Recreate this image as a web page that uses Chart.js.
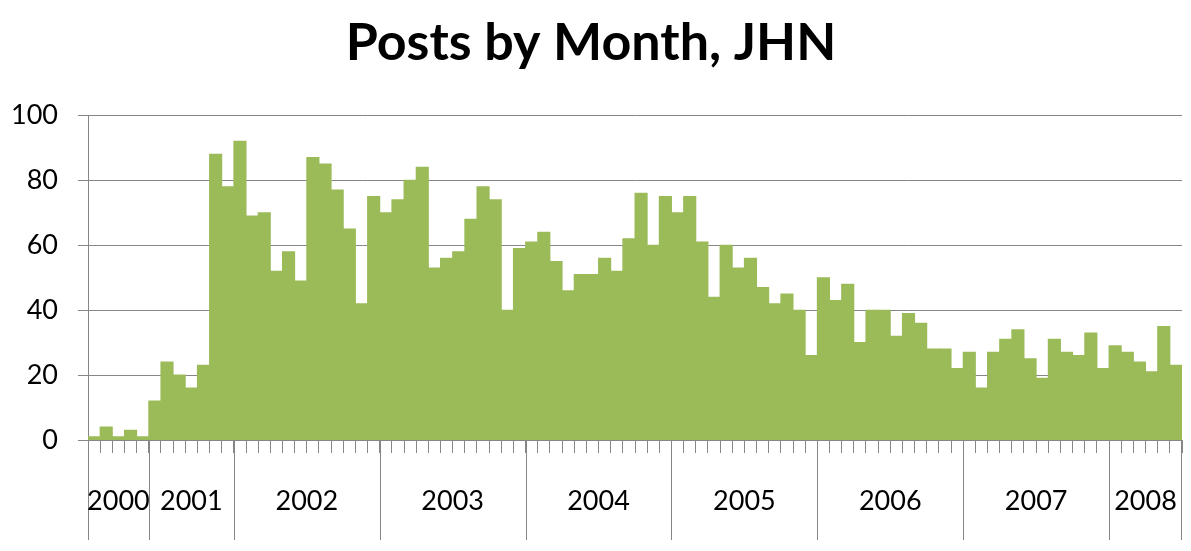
<!DOCTYPE html>
<html>
<head>
<meta charset="utf-8">
<title>Posts by Month, JHN</title>
<script src="https://cdn.jsdelivr.net/npm/chart.js@4/dist/chart.umd.min.js"></script>
<style>
  html, body { margin: 0; padding: 0; background: #fff; }
  canvas { display: block; }
</style>
</head>
<body>
<canvas id="postsChart" width="1191" height="551"></canvas>
<script>
// years on the axis and how many monthly bars each one has
const years = ["2000", "2001", "2002", "2003", "2004", "2005", "2006", "2007", "2008"];
const monthsPerYear = [5, 7, 12, 12, 12, 12, 12, 12, 6];

// posts per month
const posts2000 = [1, 4, 1, 3, 1];
const posts2001 = [12, 24, 20, 16, 23, 88, 78];
const posts2002 = [92, 69, 70, 52, 58, 49, 87, 85, 77, 65, 42, 75];
const posts2003 = [70, 74, 80, 84, 53, 56, 58, 68, 78, 74, 40, 59];
const posts2004 = [61, 64, 55, 46, 51, 51, 56, 52, 62, 76, 60, 75];
const posts2005 = [70, 75, 61, 44, 60, 53, 56, 47, 42, 45, 40, 26];
const posts2006 = [50, 43, 48, 30, 40, 40, 32, 39, 36, 28, 28, 22];
const posts2007 = [27, 16, 27, 31, 34, 25, 19, 31, 27, 26, 33, 22];
const posts2008 = [29, 27, 24, 21, 35, 23];

const yTicks = [0, 20, 40, 60, 80, 100];

const posts = [].concat(posts2000, posts2001, posts2002, posts2003, posts2004,
                        posts2005, posts2006, posts2007, posts2008);

const monthLabels = [];
years.forEach((yr, i) => {
    for (let m = 0; m < monthsPerYear[i]; m++) monthLabels.push(yr + "-" + (m + 1));
});

const gridColor = "#868686";
const barColor = "#9BBB59";
const font = "Lato";

// long separators between years and the year names under the axis
const yearBands = {
    id: "yearBands",
    afterDraw(chart) {
        const ctx = chart.ctx;
        const x = chart.scales.x;
        const step = x.getPixelForValue(1) - x.getPixelForValue(0);
        const top = x.top;
        const bottom = 540;
        let start = 0;
        ctx.save();
        ctx.strokeStyle = gridColor;
        ctx.lineWidth = 1;
        ctx.fillStyle = "#000";
        ctx.font = "27px " + font;
        ctx.textAlign = "center";
        ctx.textBaseline = "middle";
        years.forEach((yr, i) => {
            const n = monthsPerYear[i];
            const left = x.getPixelForValue(start) - step / 2;
            const right = x.getPixelForValue(start + n - 1) + step / 2;
            ctx.beginPath();
            ctx.moveTo(Math.round(left) + 0.5, top);
            ctx.lineTo(Math.round(left) + 0.5, bottom);
            if (i === years.length - 1) {
                ctx.moveTo(Math.round(right) - 0.5, top);
                ctx.lineTo(Math.round(right) - 0.5, bottom);
            }
            ctx.stroke();
            ctx.fillText(yr, (left + right) / 2, 501);
            start += n;
        });
        ctx.restore();
    }
};

new Chart(document.getElementById("postsChart"), {
    type: "bar",
    data: {
        labels: monthLabels,
        datasets: [{
            data: posts,
            backgroundColor: barColor,
            borderWidth: 0,
            barPercentage: 1,
            categoryPercentage: 1,
            inflateAmount: 0.5
        }]
    },
    options: {
        responsive: false,
        devicePixelRatio: 1,
        animation: false,
        layout: { padding: { left: 0, right: 9, top: 0, bottom: 0 } },
        plugins: {
            legend: { display: false },
            tooltip: { enabled: false },
            title: {
                display: true,
                text: "Posts by Month, JHN",
                color: "#000",
                font: { family: font, size: 52, weight: "bold", lineHeight: 1.2 },
                padding: { top: 12, bottom: 41 }
            }
        },
        scales: {
            x: {
                grid: {
                    offset: true,
                    drawOnChartArea: false,
                    color: gridColor,
                    tickLength: 13
                },
                border: { color: gridColor },
                ticks: { display: false, autoSkip: false },
                afterFit(scale) { scale.height = 111; }
            },
            y: {
                min: 0,
                max: 100,
                afterBuildTicks(scale) { scale.ticks = yTicks.map(v => ({ value: v })); },
                grid: { color: gridColor, tickLength: 10 },
                border: { color: gridColor },
                ticks: {
                    color: "#000",
                    padding: 20,
                    font: { family: font, size: 27 }
                },
                afterFit(scale) { scale.width = 88; }
            }
        }
    },
    plugins: [yearBands]
});
</script>
</body>
</html>
